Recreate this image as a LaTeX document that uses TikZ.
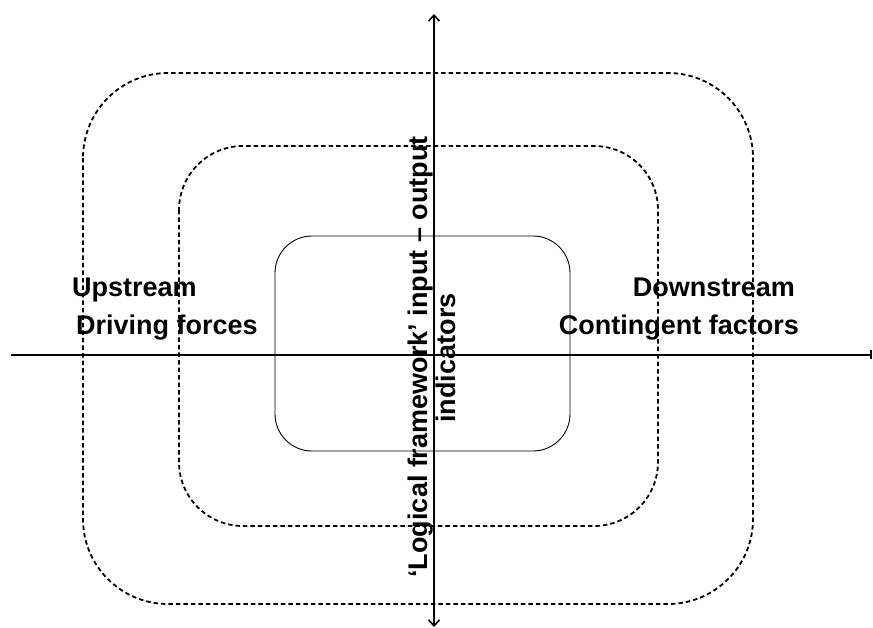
\documentclass[tikz,border=0pt]{standalone}
\usepackage{fontspec}
\setmainfont{Liberation Sans}
\usetikzlibrary{arrows.meta}
\begin{document}
\begin{tikzpicture}[x=1pt,y=-1pt,
  zone/.style={draw, line width=1.8pt, dash pattern=on 4.5pt off 3pt},
  core/.style={draw, line width=0.9pt},
  axis/.style={line width=2pt},
  lbl/.style={font=\fontsize{27}{30}\selectfont\bfseries, inner sep=0pt}]
\useasboundingbox (0,0) rectangle (873,628);
% nested zones
\draw[zone, rounded corners=85pt] (83,73) rectangle (753,604);
\draw[zone, rounded corners=64pt] (179,146) rectangle (658,526);
\draw[core, rounded corners=37pt] (275,236) rectangle (570,451);
% axes
\coordinate (hl) at (11,355);
\coordinate (hr) at (872,355);
\coordinate (vt) at (434,14);
\coordinate (vb) at (434,627);
\draw[axis, -{Bar[width=9pt,line width=1.6pt]}] (hl) -- (hr);
\draw[axis, {Straight Barb[length=6pt,width=11pt,line width=1.6pt]}-{Straight Barb[length=6pt,width=11pt,line width=1.6pt]}] (vb) -- (vt);
% side labels
\node[lbl, anchor=base west] (up) at (72,297) {Upstream};
\node[lbl, anchor=base west] (drv) at (76,335) {Driving forces};
\node[lbl, anchor=base east] (down) at (795,297) {Downstream};
\node[lbl, anchor=base east] (cont) at (799,335) {Contingent factors};
% axis label
\node[lbl, anchor=base, rotate=90] (lf1) at (427,357) {‘Logical framework’ input – output};
\node[lbl, anchor=base, rotate=90] (lf2) at (455,358) {indicators};
\end{tikzpicture}
\end{document}
